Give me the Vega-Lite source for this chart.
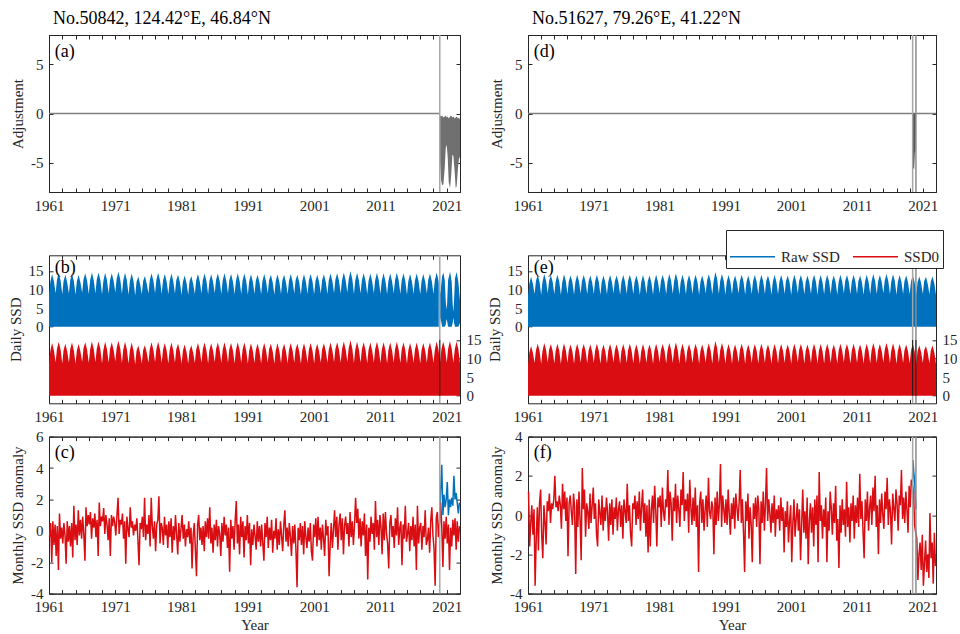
{
"$schema":"https://vega.github.io/schema/vega-lite/v6.json",
"padding":{"left":8,"top":9,"right":0,"bottom":0},
"data":{"values":[{}]},
"datasets":{
"band":[
{"t":1961,"L":8.5,"R":8.2},{"t":1961.2,"L":12.1,"R":11.6},{"t":1961.47,"L":14.2,"R":13.4},{"t":1961.75,"L":12.1,"R":11.5},
{"t":1962,"L":9.0,"R":8.8},{"t":1962.2,"L":12.6,"R":12.2},{"t":1962.47,"L":14.5,"R":14.0},{"t":1962.75,"L":12.4,"R":12.1},
{"t":1963,"L":8.7,"R":8.6},{"t":1963.2,"L":12.3,"R":12.0},{"t":1963.47,"L":14.0,"R":14.2},{"t":1963.75,"L":11.9,"R":12.3},
{"t":1964,"L":8.9,"R":8.9},{"t":1964.2,"L":12.5,"R":12.3},{"t":1964.47,"L":14.3,"R":13.9},{"t":1964.75,"L":12.2,"R":12.0},
{"t":1965,"L":8.6,"R":8.7},{"t":1965.2,"L":12.2,"R":12.1},{"t":1965.47,"L":13.9,"R":14.0},{"t":1965.75,"L":11.8,"R":12.1},
{"t":1966,"L":9.1,"R":8.5},{"t":1966.2,"L":12.7,"R":11.9},{"t":1966.47,"L":14.4,"R":14.1},{"t":1966.75,"L":12.3,"R":12.2},
{"t":1967,"L":8.8,"R":8.8},{"t":1967.2,"L":12.4,"R":12.2},{"t":1967.47,"L":14.6,"R":13.8},{"t":1967.75,"L":12.5,"R":11.9},
{"t":1968,"L":9.0,"R":8.6},{"t":1968.2,"L":12.6,"R":12.0},{"t":1968.47,"L":14.6,"R":14.0},{"t":1968.75,"L":12.5,"R":12.1},
{"t":1969,"L":8.7,"R":8.9},{"t":1969.2,"L":12.3,"R":12.3},{"t":1969.47,"L":14.5,"R":13.9},{"t":1969.75,"L":12.4,"R":12.0},
{"t":1970,"L":8.9,"R":8.7},{"t":1970.2,"L":12.5,"R":12.1},{"t":1970.47,"L":14.4,"R":13.8},{"t":1970.75,"L":12.3,"R":11.9},
{"t":1971,"L":9.2,"R":8.8},{"t":1971.2,"L":12.8,"R":12.2},{"t":1971.47,"L":14.8,"R":14.0},{"t":1971.75,"L":12.7,"R":12.1},
{"t":1972,"L":8.8,"R":8.6},{"t":1972.2,"L":12.4,"R":12.0},{"t":1972.47,"L":14.5,"R":13.8},{"t":1972.75,"L":12.4,"R":11.9},
{"t":1973,"L":8.6,"R":8.7},{"t":1973.2,"L":12.2,"R":12.1},{"t":1973.47,"L":14.3,"R":13.9},{"t":1973.75,"L":12.2,"R":12.0},
{"t":1974,"L":8.4,"R":8.9},{"t":1974.2,"L":12.0,"R":12.3},{"t":1974.47,"L":13.5,"R":13.8},{"t":1974.75,"L":11.4,"R":11.9},
{"t":1975,"L":8.7,"R":8.6},{"t":1975.2,"L":12.3,"R":12.0},{"t":1975.47,"L":13.6,"R":13.9},{"t":1975.75,"L":11.5,"R":12.0},
{"t":1976,"L":8.9,"R":8.8},{"t":1976.2,"L":12.5,"R":12.2},{"t":1976.47,"L":14.4,"R":14.0},{"t":1976.75,"L":12.3,"R":12.1},
{"t":1977,"L":9.0,"R":8.7},{"t":1977.2,"L":12.6,"R":12.1},{"t":1977.47,"L":14.5,"R":13.8},{"t":1977.75,"L":12.4,"R":11.9},
{"t":1978,"L":8.8,"R":8.5},{"t":1978.2,"L":12.4,"R":11.9},{"t":1978.47,"L":14.2,"R":13.9},{"t":1978.75,"L":12.1,"R":12.0},
{"t":1979,"L":8.7,"R":8.8},{"t":1979.2,"L":12.3,"R":12.2},{"t":1979.47,"L":14.3,"R":13.8},{"t":1979.75,"L":12.2,"R":11.9},
{"t":1980,"L":8.9,"R":8.6},{"t":1980.2,"L":12.5,"R":12.0},{"t":1980.47,"L":14.0,"R":14.0},{"t":1980.75,"L":11.9,"R":12.1},
{"t":1981,"L":8.5,"R":8.9},{"t":1981.2,"L":12.1,"R":12.3},{"t":1981.47,"L":13.8,"R":13.9},{"t":1981.75,"L":11.7,"R":12.0},
{"t":1982,"L":8.6,"R":8.7},{"t":1982.2,"L":12.2,"R":12.1},{"t":1982.47,"L":13.6,"R":14.2},{"t":1982.75,"L":11.5,"R":12.3},
{"t":1983,"L":8.8,"R":8.8},{"t":1983.2,"L":12.4,"R":12.2},{"t":1983.47,"L":14.2,"R":14.3},{"t":1983.75,"L":12.1,"R":12.4},
{"t":1984,"L":8.9,"R":8.6},{"t":1984.2,"L":12.5,"R":12.0},{"t":1984.47,"L":14.3,"R":14.0},{"t":1984.75,"L":12.2,"R":12.1},
{"t":1985,"L":8.7,"R":8.7},{"t":1985.2,"L":12.3,"R":12.1},{"t":1985.47,"L":14.1,"R":13.9},{"t":1985.75,"L":12.0,"R":12.0},
{"t":1986,"L":9.0,"R":8.8},{"t":1986.2,"L":12.6,"R":12.2},{"t":1986.47,"L":14.3,"R":14.0},{"t":1986.75,"L":12.2,"R":12.1},
{"t":1987,"L":8.8,"R":8.6},{"t":1987.2,"L":12.4,"R":12.0},{"t":1987.47,"L":14.4,"R":13.8},{"t":1987.75,"L":12.3,"R":11.9},
{"t":1988,"L":8.9,"R":8.9},{"t":1988.2,"L":12.5,"R":12.3},{"t":1988.47,"L":14.2,"R":14.1},{"t":1988.75,"L":12.1,"R":12.2},
{"t":1989,"L":8.7,"R":8.7},{"t":1989.2,"L":12.3,"R":12.1},{"t":1989.47,"L":14.4,"R":14.7},{"t":1989.75,"L":12.3,"R":12.8},
{"t":1990,"L":8.8,"R":8.8},{"t":1990.2,"L":12.4,"R":12.2},{"t":1990.47,"L":14.3,"R":14.2},{"t":1990.75,"L":12.2,"R":12.3},
{"t":1991,"L":8.6,"R":8.6},{"t":1991.2,"L":12.2,"R":12.0},{"t":1991.47,"L":14.1,"R":13.9},{"t":1991.75,"L":12.0,"R":12.0},
{"t":1992,"L":8.8,"R":8.7},{"t":1992.2,"L":12.4,"R":12.1},{"t":1992.47,"L":14.0,"R":13.8},{"t":1992.75,"L":11.9,"R":11.9},
{"t":1993,"L":8.7,"R":8.9},{"t":1993.2,"L":12.3,"R":12.3},{"t":1993.47,"L":14.2,"R":14.0},{"t":1993.75,"L":12.1,"R":12.1},
{"t":1994,"L":8.9,"R":8.6},{"t":1994.2,"L":12.5,"R":12.0},{"t":1994.47,"L":14.0,"R":13.8},{"t":1994.75,"L":11.9,"R":11.9},
{"t":1995,"L":8.6,"R":8.8},{"t":1995.2,"L":12.2,"R":12.2},{"t":1995.47,"L":14.1,"R":13.9},{"t":1995.75,"L":12.0,"R":12.0},
{"t":1996,"L":8.8,"R":8.7},{"t":1996.2,"L":12.4,"R":12.1},{"t":1996.47,"L":14.0,"R":14.0},{"t":1996.75,"L":11.9,"R":12.1},
{"t":1997,"L":8.7,"R":8.8},{"t":1997.2,"L":12.3,"R":12.2},{"t":1997.47,"L":14.2,"R":13.8},{"t":1997.75,"L":12.1,"R":11.9},
{"t":1998,"L":8.9,"R":8.6},{"t":1998.2,"L":12.5,"R":12.0},{"t":1998.47,"L":14.0,"R":13.9},{"t":1998.75,"L":11.9,"R":12.0},
{"t":1999,"L":8.6,"R":8.7},{"t":1999.2,"L":12.2,"R":12.1},{"t":1999.47,"L":14.1,"R":13.9},{"t":1999.75,"L":12.0,"R":12.0},
{"t":2000,"L":8.8,"R":8.8},{"t":2000.2,"L":12.4,"R":12.2},{"t":2000.47,"L":14.2,"R":13.8},{"t":2000.75,"L":12.1,"R":11.9},
{"t":2001,"L":8.7,"R":8.6},{"t":2001.2,"L":12.3,"R":12.0},{"t":2001.47,"L":14.0,"R":14.0},{"t":2001.75,"L":11.9,"R":12.1},
{"t":2002,"L":8.9,"R":8.9},{"t":2002.2,"L":12.5,"R":12.3},{"t":2002.47,"L":14.1,"R":13.9},{"t":2002.75,"L":12.0,"R":12.0},
{"t":2003,"L":8.8,"R":8.7},{"t":2003.2,"L":12.4,"R":12.1},{"t":2003.47,"L":14.3,"R":13.8},{"t":2003.75,"L":12.2,"R":11.9},
{"t":2004,"L":9.0,"R":8.8},{"t":2004.2,"L":12.6,"R":12.2},{"t":2004.47,"L":14.4,"R":14.0},{"t":2004.75,"L":12.3,"R":12.1},
{"t":2005,"L":8.9,"R":8.6},{"t":2005.2,"L":12.5,"R":12.0},{"t":2005.47,"L":14.6,"R":13.9},{"t":2005.75,"L":12.5,"R":12.0},
{"t":2006,"L":9.1,"R":8.7},{"t":2006.2,"L":12.7,"R":12.1},{"t":2006.47,"L":14.9,"R":14.0},{"t":2006.75,"L":12.8,"R":12.1},
{"t":2007,"L":8.8,"R":8.8},{"t":2007.2,"L":12.4,"R":12.2},{"t":2007.47,"L":14.5,"R":13.8},{"t":2007.75,"L":12.4,"R":11.9},
{"t":2008,"L":8.9,"R":8.6},{"t":2008.2,"L":12.5,"R":12.0},{"t":2008.47,"L":14.4,"R":14.0},{"t":2008.75,"L":12.3,"R":12.1},
{"t":2009,"L":8.7,"R":8.9},{"t":2009.2,"L":12.3,"R":12.3},{"t":2009.47,"L":14.3,"R":13.9},{"t":2009.75,"L":12.2,"R":12.0},
{"t":2010,"L":8.9,"R":8.7},{"t":2010.2,"L":12.5,"R":12.1},{"t":2010.47,"L":14.5,"R":14.0},{"t":2010.75,"L":12.4,"R":12.1},
{"t":2011,"L":8.8,"R":8.8},{"t":2011.2,"L":12.4,"R":12.2},{"t":2011.47,"L":14.4,"R":13.8},{"t":2011.75,"L":12.3,"R":11.9},
{"t":2012,"L":8.7,"R":8.6},{"t":2012.2,"L":12.3,"R":12.0},{"t":2012.47,"L":14.3,"R":14.0},{"t":2012.75,"L":12.2,"R":12.1},
{"t":2013,"L":8.9,"R":8.7},{"t":2013.2,"L":12.5,"R":12.1},{"t":2013.47,"L":14.5,"R":14.2},{"t":2013.75,"L":12.4,"R":12.3},
{"t":2014,"L":8.8,"R":8.8},{"t":2014.2,"L":12.4,"R":12.2},{"t":2014.47,"L":14.4,"R":13.9},{"t":2014.75,"L":12.3,"R":12.0},
{"t":2015,"L":8.6,"R":8.9},{"t":2015.2,"L":12.2,"R":12.3},{"t":2015.47,"L":14.2,"R":14.2},{"t":2015.75,"L":12.1,"R":12.3},
{"t":2016,"L":8.8,"R":8.7},{"t":2016.2,"L":12.4,"R":12.1},{"t":2016.47,"L":14.3,"R":14.1},{"t":2016.75,"L":12.2,"R":12.2},
{"t":2017,"L":8.7,"R":8.6},{"t":2017.2,"L":12.3,"R":12.0},{"t":2017.47,"L":14.2,"R":13.9},{"t":2017.75,"L":12.1,"R":12.0},
{"t":2018,"L":8.9,"R":8.8},{"t":2018.2,"L":12.5,"R":12.2},{"t":2018.47,"L":14.3,"R":13.8},{"t":2018.75,"L":12.2,"R":11.9},
{"t":2019,"L":8.8,"R":8.7},{"t":2019.2,"L":12.4,"R":12.1},{"t":2019.47,"L":14.6,"R":13.9},{"t":2019.75,"L":12.5,"R":12.0},
{"t":2020,"L":9.0,"R":8.6},{"t":2020.2,"L":12.6,"R":12.0},{"t":2020.47,"L":14.6,"R":13.5},{"t":2020.75,"L":12.5,"R":11.6},
{"t":2021,"L":8.9,"R":8.8},{"t":2021.2,"L":12.5,"R":12.2},{"t":2021.47,"L":14.7,"R":13.4},{"t":2021.75,"L":12.6,"R":11.5},
{"t":2022,"L":8.8,"R":8.7},{"t":2022.2,"L":12.4,"R":12.1},{"t":2022.47,"L":14.6,"R":13.5},{"t":2022.75,"L":12.5,"R":11.6},
{"t":2023,"L":8.7,"R":8.6}
],
"bb":[
{"t":2019.75,"hi":12.5,"lo":0},{"t":2019.95,"hi":9.5,"lo":0},{"t":2020.05,"hi":9.0,"lo":2.5},{"t":2020.15,"hi":11.0,"lo":1.5},{"t":2020.3,"hi":13.5,"lo":0},{"t":2020.5,"hi":14.6,"lo":0},{"t":2020.7,"hi":12.5,"lo":0},{"t":2020.85,"hi":7.0,"lo":0.5},{"t":2020.95,"hi":4.6,"lo":2.0},{"t":2021.05,"hi":6.0,"lo":1.5},{"t":2021.2,"hi":12.5,"lo":0},{"t":2021.5,"hi":14.8,"lo":0},{"t":2021.75,"hi":12.0,"lo":0},{"t":2021.9,"hi":6.0,"lo":1.0},{"t":2022.0,"hi":4.0,"lo":2.5},{"t":2022.1,"hi":7.0,"lo":1.0},{"t":2022.25,"hi":13.0,"lo":0},{"t":2022.5,"hi":14.7,"lo":0},{"t":2022.75,"hi":12.0,"lo":0},{"t":2023,"hi":7.0,"lo":1.0}
],
"adja":[
{"t":2019.95,"lo":-0.2,"hi":0},{"t":2020.0,"lo":-5.0,"hi":-0.2},{"t":2020.15,"lo":-6.8,"hi":-0.3},{"t":2020.3,"lo":-7.3,"hi":-0.2},{"t":2020.5,"lo":-7.2,"hi":-0.4},{"t":2020.7,"lo":-5.5,"hi":-0.3},{"t":2020.85,"lo":-3.5,"hi":-0.2},{"t":2021.0,"lo":-3.2,"hi":-0.4},{"t":2021.15,"lo":-4.5,"hi":-0.3},{"t":2021.3,"lo":-7.0,"hi":-0.5},{"t":2021.5,"lo":-7.6,"hi":-0.3},{"t":2021.65,"lo":-6.5,"hi":-0.2},{"t":2021.85,"lo":-4.2,"hi":-0.4},{"t":2022.0,"lo":-4.3,"hi":-0.3},{"t":2022.2,"lo":-6.0,"hi":-0.5},{"t":2022.35,"lo":-7.6,"hi":-0.4},{"t":2022.5,"lo":-7.4,"hi":-0.3},{"t":2022.7,"lo":-5.5,"hi":-0.5},{"t":2022.85,"lo":-4.6,"hi":-0.4},{"t":2023.0,"lo":-4.4,"hi":-0.6}
],
"adjd":[
{"t":2019.45,"lo":0,"hi":0},{"t":2019.48,"lo":-5.8,"hi":0},{"t":2019.58,"lo":-5.5,"hi":0},{"t":2019.68,"lo":-5.7,"hi":0},{"t":2019.78,"lo":-4.0,"hi":0},{"t":2019.9,"lo":-3.7,"hi":0},{"t":2019.95,"lo":0,"hi":0}
],
"cb":[
{"t":2019.92,"v":0.5},{"t":2020.08,"v":2.6},{"t":2020.25,"v":4.2},{"t":2020.42,"v":1.0},{"t":2020.58,"v":2.3},{"t":2020.75,"v":1.5},{"t":2020.92,"v":2.0},{"t":2021.08,"v":3.1},{"t":2021.25,"v":1.0},{"t":2021.42,"v":2.0},{"t":2021.58,"v":1.5},{"t":2021.75,"v":2.1},{"t":2021.92,"v":1.6},{"t":2022.08,"v":3.5},{"t":2022.25,"v":2.0},{"t":2022.42,"v":2.4},{"t":2022.58,"v":1.8},{"t":2022.75,"v":1.1},{"t":2022.92,"v":1.8}
],
"fb":[
{"t":2019.42,"v":1.6},{"t":2019.5,"v":2.8},{"t":2019.62,"v":2.2},{"t":2019.78,"v":1.6},{"t":2019.95,"v":0.3}
],
"cr":[
{"t":1961.08,"v":-0.4},{"t":1961.25,"v":0.5},{"t":1961.42,"v":-2.0},{"t":1961.58,"v":0.6},{"t":1961.75,"v":-0.9},{"t":1961.92,"v":0.4},
{"t":1962.08,"v":-1.6},{"t":1962.25,"v":0.3},{"t":1962.42,"v":-2.5},{"t":1962.58,"v":1.1},{"t":1962.75,"v":-0.5},{"t":1962.92,"v":0.2},
{"t":1963.08,"v":-0.8},{"t":1963.25,"v":0.5},{"t":1963.42,"v":-0.3},{"t":1963.58,"v":-2.1},{"t":1963.75,"v":0.6},{"t":1963.92,"v":-0.7},
{"t":1964.08,"v":0.3},{"t":1964.25,"v":-1.0},{"t":1964.42,"v":0.5},{"t":1964.58,"v":-1.7},{"t":1964.75,"v":1.6},{"t":1964.92,"v":-0.6},
{"t":1965.08,"v":0.4},{"t":1965.25,"v":-0.9},{"t":1965.42,"v":1.3},{"t":1965.58,"v":-0.3},{"t":1965.75,"v":0.7},{"t":1965.92,"v":-0.5},
{"t":1966.08,"v":0.9},{"t":1966.25,"v":-0.2},{"t":1966.42,"v":-1.9},{"t":1966.58,"v":1.5},{"t":1966.75,"v":0.3},{"t":1966.92,"v":1.0},
{"t":1967.08,"v":0.4},{"t":1967.25,"v":1.2},{"t":1967.42,"v":-0.5},{"t":1967.58,"v":0.8},{"t":1967.75,"v":0.2},{"t":1967.92,"v":1.1},
{"t":1968.08,"v":-0.4},{"t":1968.25,"v":0.7},{"t":1968.42,"v":-1.6},{"t":1968.58,"v":1.8},{"t":1968.75,"v":0.3},{"t":1968.92,"v":0.9},
{"t":1969.08,"v":0.6},{"t":1969.25,"v":1.45},{"t":1969.42,"v":-0.2},{"t":1969.58,"v":1.0},{"t":1969.75,"v":0.4},{"t":1969.92,"v":-0.6},
{"t":1970.08,"v":0.8},{"t":1970.25,"v":-1.6},{"t":1970.42,"v":1.0},{"t":1970.58,"v":0.3},{"t":1970.75,"v":0.9},{"t":1970.92,"v":0.5},
{"t":1971.08,"v":-0.3},{"t":1971.25,"v":1.0},{"t":1971.42,"v":2.1},{"t":1971.58,"v":-0.2},{"t":1971.75,"v":0.7},{"t":1971.92,"v":0.4},
{"t":1972.08,"v":1.1},{"t":1972.25,"v":-0.5},{"t":1972.42,"v":0.6},{"t":1972.58,"v":-2.1},{"t":1972.75,"v":0.9},{"t":1972.92,"v":0.1},
{"t":1973.08,"v":-0.4},{"t":1973.25,"v":1.5},{"t":1973.42,"v":0.2},{"t":1973.58,"v":0.6},{"t":1973.75,"v":-0.3},{"t":1973.92,"v":0.4},
{"t":1974.08,"v":0.0},{"t":1974.25,"v":0.8},{"t":1974.42,"v":-0.6},{"t":1974.58,"v":-2.2},{"t":1974.75,"v":0.5},{"t":1974.92,"v":0.1},
{"t":1975.08,"v":0.9},{"t":1975.25,"v":-0.4},{"t":1975.42,"v":2.1},{"t":1975.58,"v":-0.6},{"t":1975.75,"v":0.4},{"t":1975.92,"v":-0.2},
{"t":1976.08,"v":1.0},{"t":1976.25,"v":-1.0},{"t":1976.42,"v":2.1},{"t":1976.58,"v":0.3},{"t":1976.75,"v":-0.5},{"t":1976.92,"v":0.6},
{"t":1977.08,"v":-1.3},{"t":1977.25,"v":0.4},{"t":1977.42,"v":0.7},{"t":1977.58,"v":2.2},{"t":1977.75,"v":-0.8},{"t":1977.92,"v":0.5},
{"t":1978.08,"v":0.2},{"t":1978.25,"v":-0.9},{"t":1978.42,"v":0.9},{"t":1978.58,"v":-0.3},{"t":1978.75,"v":0.4},{"t":1978.92,"v":-1.1},
{"t":1979.08,"v":0.6},{"t":1979.25,"v":-0.4},{"t":1979.42,"v":0.8},{"t":1979.58,"v":-1.4},{"t":1979.75,"v":0.3},{"t":1979.92,"v":-0.6},
{"t":1980.08,"v":1.0},{"t":1980.25,"v":-0.2},{"t":1980.42,"v":-1.5},{"t":1980.58,"v":0.5},{"t":1980.75,"v":-0.7},{"t":1980.92,"v":0.2},
{"t":1981.08,"v":1.0},{"t":1981.25,"v":-0.5},{"t":1981.42,"v":0.4},{"t":1981.58,"v":-1.0},{"t":1981.75,"v":0.1},{"t":1981.92,"v":-0.4},
{"t":1982.08,"v":0.6},{"t":1982.25,"v":-0.8},{"t":1982.42,"v":0.2},{"t":1982.58,"v":-2.4},{"t":1982.75,"v":-0.3},{"t":1982.92,"v":0.5},
{"t":1983.08,"v":-1.2},{"t":1983.25,"v":-2.9},{"t":1983.42,"v":0.4},{"t":1983.58,"v":1.0},{"t":1983.75,"v":-0.6},{"t":1983.92,"v":0.2},
{"t":1984.08,"v":-0.9},{"t":1984.25,"v":0.3},{"t":1984.42,"v":-1.3},{"t":1984.58,"v":0.6},{"t":1984.75,"v":-0.4},{"t":1984.92,"v":0.8},
{"t":1985.08,"v":-0.5},{"t":1985.25,"v":1.5},{"t":1985.42,"v":-0.8},{"t":1985.58,"v":0.2},{"t":1985.75,"v":-1.4},{"t":1985.92,"v":0.4},
{"t":1986.08,"v":-0.6},{"t":1986.25,"v":0.7},{"t":1986.42,"v":-1.0},{"t":1986.58,"v":0.3},{"t":1986.75,"v":-0.2},{"t":1986.92,"v":-1.6},
{"t":1987.08,"v":0.5},{"t":1987.25,"v":-0.7},{"t":1987.42,"v":0.9},{"t":1987.58,"v":-0.3},{"t":1987.75,"v":0.4},{"t":1987.92,"v":-1.1},
{"t":1988.08,"v":0.2},{"t":1988.25,"v":-2.6},{"t":1988.42,"v":0.7},{"t":1988.58,"v":-0.5},{"t":1988.75,"v":0.3},{"t":1988.92,"v":-1.2},
{"t":1989.08,"v":0.6},{"t":1989.25,"v":1.9},{"t":1989.42,"v":-0.8},{"t":1989.58,"v":0.4},{"t":1989.75,"v":-1.5},{"t":1989.92,"v":0.9},
{"t":1990.08,"v":-0.4},{"t":1990.25,"v":0.6},{"t":1990.42,"v":-1.7},{"t":1990.58,"v":0.3},{"t":1990.75,"v":-0.6},{"t":1990.92,"v":1.0},
{"t":1991.08,"v":-0.8},{"t":1991.25,"v":0.5},{"t":1991.42,"v":-2.2},{"t":1991.58,"v":0.1},{"t":1991.75,"v":-0.9},{"t":1991.92,"v":0.4},
{"t":1992.08,"v":-0.3},{"t":1992.25,"v":-1.2},{"t":1992.42,"v":0.6},{"t":1992.58,"v":-0.7},{"t":1992.75,"v":0.3},{"t":1992.92,"v":-1.0},
{"t":1993.08,"v":0.4},{"t":1993.25,"v":-0.8},{"t":1993.42,"v":-1.9},{"t":1993.58,"v":0.5},{"t":1993.75,"v":-0.4},{"t":1993.92,"v":0.9},
{"t":1994.08,"v":-1.1},{"t":1994.25,"v":0.2},{"t":1994.42,"v":-0.6},{"t":1994.58,"v":0.7},{"t":1994.75,"v":-1.4},{"t":1994.92,"v":0.0},
{"t":1995.08,"v":-0.5},{"t":1995.25,"v":0.8},{"t":1995.42,"v":-1.2},{"t":1995.58,"v":0.1},{"t":1995.75,"v":-0.9},{"t":1995.92,"v":0.6},
{"t":1996.08,"v":-0.3},{"t":1996.25,"v":-1.3},{"t":1996.42,"v":0.4},{"t":1996.58,"v":1.3},{"t":1996.75,"v":-0.7},{"t":1996.92,"v":0.2},
{"t":1997.08,"v":-1.0},{"t":1997.25,"v":0.5},{"t":1997.42,"v":-0.4},{"t":1997.58,"v":-1.6},{"t":1997.75,"v":0.3},{"t":1997.92,"v":-0.8},
{"t":1998.08,"v":0.4},{"t":1998.25,"v":-1.2},{"t":1998.42,"v":-3.6},{"t":1998.58,"v":0.2},{"t":1998.75,"v":-0.6},{"t":1998.92,"v":0.5},
{"t":1999.08,"v":-0.9},{"t":1999.25,"v":0.3},{"t":1999.42,"v":-1.5},{"t":1999.58,"v":0.6},{"t":1999.75,"v":-0.4},{"t":1999.92,"v":-1.1},
{"t":2000.08,"v":0.2},{"t":2000.25,"v":-0.7},{"t":2000.42,"v":0.5},{"t":2000.58,"v":-1.3},{"t":2000.75,"v":-1.9},{"t":2000.92,"v":0.4},
{"t":2001.08,"v":-0.4},{"t":2001.25,"v":0.8},{"t":2001.42,"v":-1.0},{"t":2001.58,"v":0.9},{"t":2001.75,"v":-0.6},{"t":2001.92,"v":0.2},
{"t":2002.08,"v":-1.2},{"t":2002.25,"v":0.4},{"t":2002.42,"v":-0.5},{"t":2002.58,"v":-1.6},{"t":2002.75,"v":0.7},{"t":2002.92,"v":-0.3},
{"t":2003.08,"v":0.3},{"t":2003.25,"v":-2.9},{"t":2003.42,"v":-0.8},{"t":2003.58,"v":0.5},{"t":2003.75,"v":-1.1},{"t":2003.92,"v":0.1},
{"t":2004.08,"v":1.3},{"t":2004.25,"v":-0.4},{"t":2004.42,"v":0.9},{"t":2004.58,"v":-1.2},{"t":2004.75,"v":0.4},{"t":2004.92,"v":1.1},
{"t":2005.08,"v":-0.6},{"t":2005.25,"v":0.8},{"t":2005.42,"v":-1.5},{"t":2005.58,"v":0.3},{"t":2005.75,"v":0.9},{"t":2005.92,"v":-0.2},
{"t":2006.08,"v":0.5},{"t":2006.25,"v":-1.0},{"t":2006.42,"v":1.2},{"t":2006.58,"v":-0.4},{"t":2006.75,"v":0.6},{"t":2006.92,"v":-0.9},
{"t":2007.08,"v":0.3},{"t":2007.25,"v":2.1},{"t":2007.42,"v":0.5},{"t":2007.58,"v":1.4},{"t":2007.75,"v":-0.5},{"t":2007.92,"v":0.8},
{"t":2008.08,"v":-1.0},{"t":2008.25,"v":0.6},{"t":2008.42,"v":-0.3},{"t":2008.58,"v":1.1},{"t":2008.75,"v":-1.6},{"t":2008.92,"v":0.4},
{"t":2009.08,"v":-3.1},{"t":2009.25,"v":0.2},{"t":2009.42,"v":-0.7},{"t":2009.58,"v":0.9},{"t":2009.75,"v":-0.2},{"t":2009.92,"v":0.5},
{"t":2010.08,"v":-1.2},{"t":2010.25,"v":1.9},{"t":2010.42,"v":-0.4},{"t":2010.58,"v":0.7},{"t":2010.75,"v":-0.9},{"t":2010.92,"v":1.0},
{"t":2011.08,"v":0.3},{"t":2011.25,"v":-1.5},{"t":2011.42,"v":1.1},{"t":2011.58,"v":-0.6},{"t":2011.75,"v":1.2},{"t":2011.92,"v":-0.2},
{"t":2012.08,"v":-0.8},{"t":2012.25,"v":-2.4},{"t":2012.42,"v":0.5},{"t":2012.58,"v":1.0},{"t":2012.75,"v":-0.4},{"t":2012.92,"v":0.3},
{"t":2013.08,"v":-1.1},{"t":2013.25,"v":0.8},{"t":2013.42,"v":-0.3},{"t":2013.58,"v":1.5},{"t":2013.75,"v":-0.9},{"t":2013.92,"v":0.2},
{"t":2014.08,"v":0.6},{"t":2014.25,"v":-2.2},{"t":2014.42,"v":0.4},{"t":2014.58,"v":-0.5},{"t":2014.75,"v":1.6},{"t":2014.92,"v":-0.7},
{"t":2015.08,"v":-0.2},{"t":2015.25,"v":0.5},{"t":2015.42,"v":-1.3},{"t":2015.58,"v":0.3},{"t":2015.75,"v":-0.6},{"t":2015.92,"v":0.9},
{"t":2016.08,"v":-1.0},{"t":2016.25,"v":0.4},{"t":2016.42,"v":-2.5},{"t":2016.58,"v":1.6},{"t":2016.75,"v":-0.8},{"t":2016.92,"v":0.2},
{"t":2017.08,"v":0.5},{"t":2017.25,"v":-1.2},{"t":2017.42,"v":0.3},{"t":2017.58,"v":-0.4},{"t":2017.75,"v":1.3},{"t":2017.92,"v":-0.9},
{"t":2018.08,"v":-0.6},{"t":2018.25,"v":0.2},{"t":2018.42,"v":-1.4},{"t":2018.58,"v":0.6},{"t":2018.75,"v":1.5},{"t":2018.92,"v":-0.3},
{"t":2019.08,"v":-1.1},{"t":2019.25,"v":-3.5},{"t":2019.42,"v":0.8},{"t":2019.58,"v":1.2},{"t":2019.75,"v":-0.4},{"t":2019.92,"v":0.5},
{"t":2020.08,"v":1.8},{"t":2020.25,"v":0.3},{"t":2020.42,"v":-2.3},{"t":2020.58,"v":0.6},{"t":2020.75,"v":-0.5},{"t":2020.92,"v":0.9},
{"t":2021.08,"v":-0.8},{"t":2021.25,"v":0.4},{"t":2021.42,"v":-2.5},{"t":2021.58,"v":0.2},{"t":2021.75,"v":-1.0},{"t":2021.92,"v":0.7},
{"t":2022.08,"v":-0.3},{"t":2022.25,"v":0.8},{"t":2022.42,"v":-1.2},{"t":2022.58,"v":0.6},{"t":2022.75,"v":-0.7},{"t":2022.92,"v":0.3}
],
"fr":[
{"t":1961.08,"v":1.2},{"t":1961.25,"v":-1.6},{"t":1961.42,"v":-0.4},{"t":1961.58,"v":0.5},{"t":1961.75,"v":-1.0},{"t":1961.92,"v":0.3},
{"t":1962.08,"v":-3.6},{"t":1962.25,"v":-1.2},{"t":1962.42,"v":0.4},{"t":1962.58,"v":-1.8},{"t":1962.75,"v":0.6},{"t":1962.92,"v":1.3},
{"t":1963.08,"v":-1.0},{"t":1963.25,"v":-2.2},{"t":1963.42,"v":0.5},{"t":1963.58,"v":-0.3},{"t":1963.75,"v":-1.5},{"t":1963.92,"v":0.7},
{"t":1964.08,"v":0.2},{"t":1964.25,"v":1.1},{"t":1964.42,"v":-0.4},{"t":1964.58,"v":0.6},{"t":1964.75,"v":0.3},{"t":1964.92,"v":0.8},
{"t":1965.08,"v":2.0},{"t":1965.25,"v":0.4},{"t":1965.42,"v":0.7},{"t":1965.58,"v":0.2},{"t":1965.75,"v":1.0},{"t":1965.92,"v":0.5},
{"t":1966.08,"v":-0.7},{"t":1966.25,"v":1.6},{"t":1966.42,"v":0.3},{"t":1966.58,"v":1.2},{"t":1966.75,"v":-0.3},{"t":1966.92,"v":0.9},
{"t":1967.08,"v":-2.1},{"t":1967.25,"v":0.6},{"t":1967.42,"v":1.0},{"t":1967.58,"v":0.2},{"t":1967.75,"v":-0.5},{"t":1967.92,"v":1.1},
{"t":1968.08,"v":0.4},{"t":1968.25,"v":-3.0},{"t":1968.42,"v":0.8},{"t":1968.58,"v":-0.6},{"t":1968.75,"v":1.2},{"t":1968.92,"v":-0.3},
{"t":1969.08,"v":-2.3},{"t":1969.25,"v":2.4},{"t":1969.42,"v":0.3},{"t":1969.58,"v":1.3},{"t":1969.75,"v":-1.1},{"t":1969.92,"v":0.6},
{"t":1970.08,"v":0.2},{"t":1970.25,"v":-0.7},{"t":1970.42,"v":1.1},{"t":1970.58,"v":-0.4},{"t":1970.75,"v":0.5},{"t":1970.92,"v":1.4},
{"t":1971.08,"v":-0.2},{"t":1971.25,"v":0.6},{"t":1971.42,"v":-1.0},{"t":1971.58,"v":-1.6},{"t":1971.75,"v":0.8},{"t":1971.92,"v":0.1},
{"t":1972.08,"v":-0.5},{"t":1972.25,"v":1.0},{"t":1972.42,"v":-0.8},{"t":1972.58,"v":0.4},{"t":1972.75,"v":-0.3},{"t":1972.92,"v":0.9},
{"t":1973.08,"v":0.2},{"t":1973.25,"v":-1.3},{"t":1973.42,"v":0.6},{"t":1973.58,"v":-0.5},{"t":1973.75,"v":0.8},{"t":1973.92,"v":-1.0},
{"t":1974.08,"v":0.4},{"t":1974.25,"v":-0.2},{"t":1974.42,"v":0.9},{"t":1974.58,"v":-0.8},{"t":1974.75,"v":0.3},{"t":1974.92,"v":0.7},
{"t":1975.08,"v":-0.6},{"t":1975.25,"v":0.5},{"t":1975.42,"v":-1.2},{"t":1975.58,"v":0.8},{"t":1975.75,"v":0.2},{"t":1975.92,"v":-0.4},
{"t":1976.08,"v":1.6},{"t":1976.25,"v":-0.3},{"t":1976.42,"v":0.5},{"t":1976.58,"v":-0.9},{"t":1976.75,"v":-1.6},{"t":1976.92,"v":0.6},
{"t":1977.08,"v":0.3},{"t":1977.25,"v":1.0},{"t":1977.42,"v":-0.5},{"t":1977.58,"v":0.7},{"t":1977.75,"v":-0.2},{"t":1977.92,"v":1.2},
{"t":1978.08,"v":-0.8},{"t":1978.25,"v":0.4},{"t":1978.42,"v":1.3},{"t":1978.58,"v":-0.4},{"t":1978.75,"v":0.6},{"t":1978.92,"v":-1.1},
{"t":1979.08,"v":0.5},{"t":1979.25,"v":-1.9},{"t":1979.42,"v":0.8},{"t":1979.58,"v":-1.6},{"t":1979.75,"v":0.3},{"t":1979.92,"v":1.0},
{"t":1980.08,"v":-0.4},{"t":1980.25,"v":1.5},{"t":1980.42,"v":0.2},{"t":1980.58,"v":-1.6},{"t":1980.75,"v":0.9},{"t":1980.92,"v":0.4},
{"t":1981.08,"v":1.0},{"t":1981.25,"v":-0.6},{"t":1981.42,"v":1.4},{"t":1981.58,"v":0.2},{"t":1981.75,"v":-0.3},{"t":1981.92,"v":0.8},
{"t":1982.08,"v":0.4},{"t":1982.25,"v":2.3},{"t":1982.42,"v":-0.5},{"t":1982.58,"v":1.2},{"t":1982.75,"v":0.6},{"t":1982.92,"v":-1.3},
{"t":1983.08,"v":0.9},{"t":1983.25,"v":0.2},{"t":1983.42,"v":1.6},{"t":1983.58,"v":-0.4},{"t":1983.75,"v":1.0},{"t":1983.92,"v":0.3},
{"t":1984.08,"v":-0.6},{"t":1984.25,"v":1.3},{"t":1984.42,"v":0.5},{"t":1984.58,"v":2.2},{"t":1984.75,"v":-0.3},{"t":1984.92,"v":0.8},
{"t":1985.08,"v":0.2},{"t":1985.25,"v":1.1},{"t":1985.42,"v":-0.9},{"t":1985.58,"v":1.8},{"t":1985.75,"v":0.4},{"t":1985.92,"v":-0.5},
{"t":1986.08,"v":0.9},{"t":1986.25,"v":-0.3},{"t":1986.42,"v":1.4},{"t":1986.58,"v":-0.6},{"t":1986.75,"v":0.5},{"t":1986.92,"v":-2.9},
{"t":1987.08,"v":0.6},{"t":1987.25,"v":1.2},{"t":1987.42,"v":-0.4},{"t":1987.58,"v":0.8},{"t":1987.75,"v":-0.8},{"t":1987.92,"v":0.3},
{"t":1988.08,"v":1.0},{"t":1988.25,"v":-0.6},{"t":1988.42,"v":1.9},{"t":1988.58,"v":0.2},{"t":1988.75,"v":-0.2},{"t":1988.92,"v":0.7},
{"t":1989.08,"v":0.4},{"t":1989.25,"v":-2.0},{"t":1989.42,"v":0.9},{"t":1989.58,"v":-0.5},{"t":1989.75,"v":1.2},{"t":1989.92,"v":-0.3},
{"t":1990.08,"v":0.5},{"t":1990.25,"v":2.6},{"t":1990.42,"v":-0.6},{"t":1990.58,"v":1.0},{"t":1990.75,"v":0.3},{"t":1990.92,"v":-0.4},
{"t":1991.08,"v":0.8},{"t":1991.25,"v":-0.5},{"t":1991.42,"v":1.3},{"t":1991.58,"v":0.1},{"t":1991.75,"v":-1.0},{"t":1991.92,"v":0.6},
{"t":1992.08,"v":-0.2},{"t":1992.25,"v":0.9},{"t":1992.42,"v":-0.7},{"t":1992.58,"v":1.1},{"t":1992.75,"v":0.4},{"t":1992.92,"v":-0.3},
{"t":1993.08,"v":0.6},{"t":1993.25,"v":2.3},{"t":1993.42,"v":-0.4},{"t":1993.58,"v":0.8},{"t":1993.75,"v":-0.9},{"t":1993.92,"v":-2.9},
{"t":1994.08,"v":0.7},{"t":1994.25,"v":-0.3},{"t":1994.42,"v":1.1},{"t":1994.58,"v":-1.2},{"t":1994.75,"v":0.4},{"t":1994.92,"v":-0.5},
{"t":1995.08,"v":-2.4},{"t":1995.25,"v":0.6},{"t":1995.42,"v":-0.2},{"t":1995.58,"v":0.9},{"t":1995.75,"v":-0.6},{"t":1995.92,"v":1.0},
{"t":1996.08,"v":0.3},{"t":1996.25,"v":-2.5},{"t":1996.42,"v":0.7},{"t":1996.58,"v":-0.4},{"t":1996.75,"v":1.2},{"t":1996.92,"v":-0.8},
{"t":1997.08,"v":0.5},{"t":1997.25,"v":2.4},{"t":1997.42,"v":-0.3},{"t":1997.58,"v":0.8},{"t":1997.75,"v":0.1},{"t":1997.92,"v":-0.9},
{"t":1998.08,"v":0.6},{"t":1998.25,"v":-0.4},{"t":1998.42,"v":1.0},{"t":1998.58,"v":-1.1},{"t":1998.75,"v":0.3},{"t":1998.92,"v":-0.2},
{"t":1999.08,"v":0.5},{"t":1999.25,"v":-0.8},{"t":1999.42,"v":0.9},{"t":1999.58,"v":-0.3},{"t":1999.75,"v":0.4},{"t":1999.92,"v":-1.9},
{"t":2000.08,"v":0.2},{"t":2000.25,"v":-0.6},{"t":2000.42,"v":0.7},{"t":2000.58,"v":-1.4},{"t":2000.75,"v":-0.3},{"t":2000.92,"v":0.5},
{"t":2001.08,"v":-2.4},{"t":2001.25,"v":-0.4},{"t":2001.42,"v":0.8},{"t":2001.58,"v":-1.1},{"t":2001.75,"v":-0.2},{"t":2001.92,"v":0.6},
{"t":2002.08,"v":-0.8},{"t":2002.25,"v":0.3},{"t":2002.42,"v":-2.3},{"t":2002.58,"v":-0.5},{"t":2002.75,"v":1.3},{"t":2002.92,"v":-0.9},
{"t":2003.08,"v":0.2},{"t":2003.25,"v":-1.2},{"t":2003.42,"v":0.9},{"t":2003.58,"v":-2.5},{"t":2003.75,"v":-0.3},{"t":2003.92,"v":0.6},
{"t":2004.08,"v":-0.9},{"t":2004.25,"v":0.4},{"t":2004.42,"v":-1.6},{"t":2004.58,"v":0.8},{"t":2004.75,"v":-0.5},{"t":2004.92,"v":1.0},
{"t":2005.08,"v":-2.4},{"t":2005.25,"v":2.2},{"t":2005.42,"v":-0.3},{"t":2005.58,"v":0.5},{"t":2005.75,"v":-1.2},{"t":2005.92,"v":0.3},
{"t":2006.08,"v":-0.6},{"t":2006.25,"v":0.9},{"t":2006.42,"v":-2.4},{"t":2006.58,"v":0.2},{"t":2006.75,"v":-0.8},{"t":2006.92,"v":1.2},
{"t":2007.08,"v":0.4},{"t":2007.25,"v":-1.0},{"t":2007.42,"v":0.6},{"t":2007.58,"v":-0.4},{"t":2007.75,"v":1.5},{"t":2007.92,"v":-1.3},
{"t":2008.08,"v":-0.2},{"t":2008.25,"v":-2.7},{"t":2008.42,"v":0.5},{"t":2008.58,"v":-0.9},{"t":2008.75,"v":0.8},{"t":2008.92,"v":-0.5},
{"t":2009.08,"v":0.3},{"t":2009.25,"v":-1.1},{"t":2009.42,"v":1.7},{"t":2009.58,"v":-0.6},{"t":2009.75,"v":0.4},{"t":2009.92,"v":-1.4},
{"t":2010.08,"v":0.6},{"t":2010.25,"v":-0.3},{"t":2010.42,"v":1.0},{"t":2010.58,"v":-1.2},{"t":2010.75,"v":0.5},{"t":2010.92,"v":-0.4},
{"t":2011.08,"v":0.9},{"t":2011.25,"v":-0.6},{"t":2011.42,"v":2.1},{"t":2011.58,"v":-0.2},{"t":2011.75,"v":0.7},{"t":2011.92,"v":-0.9},
{"t":2012.08,"v":-2.2},{"t":2012.25,"v":0.8},{"t":2012.42,"v":-0.3},{"t":2012.58,"v":1.2},{"t":2012.75,"v":-0.8},{"t":2012.92,"v":0.4},
{"t":2013.08,"v":1.0},{"t":2013.25,"v":-0.5},{"t":2013.42,"v":1.4},{"t":2013.58,"v":0.2},{"t":2013.75,"v":2.0},{"t":2013.92,"v":-0.6},
{"t":2014.08,"v":0.5},{"t":2014.25,"v":-2.0},{"t":2014.42,"v":0.8},{"t":2014.58,"v":-0.4},{"t":2014.75,"v":1.1},{"t":2014.92,"v":0.0},
{"t":2015.08,"v":-0.7},{"t":2015.25,"v":1.2},{"t":2015.42,"v":0.3},{"t":2015.58,"v":1.9},{"t":2015.75,"v":-0.5},{"t":2015.92,"v":0.8},
{"t":2016.08,"v":0.2},{"t":2016.25,"v":-1.5},{"t":2016.42,"v":1.1},{"t":2016.58,"v":0.4},{"t":2016.75,"v":-0.3},{"t":2016.92,"v":1.3},
{"t":2017.08,"v":0.6},{"t":2017.25,"v":-0.8},{"t":2017.42,"v":1.0},{"t":2017.58,"v":0.5},{"t":2017.75,"v":2.3},{"t":2017.92,"v":-0.2},
{"t":2018.08,"v":0.9},{"t":2018.25,"v":-0.4},{"t":2018.42,"v":1.2},{"t":2018.58,"v":0.3},{"t":2018.75,"v":-0.9},{"t":2018.92,"v":1.5},
{"t":2019.08,"v":0.4},{"t":2019.25,"v":1.8},{"t":2019.42,"v":1.6},{"t":2019.58,"v":1.2},{"t":2019.75,"v":-0.5},{"t":2019.92,"v":-0.9},
{"t":2020.08,"v":-1.2},{"t":2020.25,"v":-3.3},{"t":2020.42,"v":-2.0},{"t":2020.58,"v":-1.4},{"t":2020.75,"v":-2.8},{"t":2020.92,"v":-1.0},
{"t":2021.08,"v":-3.6},{"t":2021.25,"v":-2.5},{"t":2021.42,"v":-1.3},{"t":2021.58,"v":-2.9},{"t":2021.75,"v":-2.0},{"t":2021.92,"v":-3.2},
{"t":2022.08,"v":0.1},{"t":2022.25,"v":-2.2},{"t":2022.42,"v":-1.4},{"t":2022.58,"v":-3.5},{"t":2022.75,"v":-0.9},{"t":2022.92,"v":-2.6}
]
},
"columns":2,
"align":"each",
"bounds":"flush",
"spacing":{"row":33.3,"column":68},
"concat":[
{
"width":411,"height":157,
"title":{"text":"No.50842, 124.42°E, 46.84°N"},
"layer":[
{"mark":{"type":"rule","color":"#7f7f7f","strokeWidth":1.5},
"encoding":{
"x":{"datum":1961,"type":"quantitative","scale":{"domain":[1961,2023],"nice":false,"zero":false},"axis":{"orient":"bottom","values":[1961,1963,1965,1967,1969,1971,1973,1975,1977,1979,1981,1983,1985,1987,1989,1991,1993,1995,1997,1999,2001,2003,2005,2007,2009,2011,2013,2015,2017,2019,2021,2023],"labelExpr":"(datum.value-1961)%10==0 ? datum.value+'' : ''","title":null}},
"x2":{"datum":2019.95},
"y":{"datum":0,"type":"quantitative","scale":{"domain":[-8,8],"nice":false,"zero":false},"axis":{"orient":"left","values":[-5,0,5],"title":"Adjustment","labelExpr":"datum.value+''"}}}},
{"data":{"name":"adja"},"mark":{"type":"area","color":"#707070"},
"encoding":{
"x":{"field":"t","type":"quantitative","scale":{"domain":[1961,2023],"nice":false,"zero":false},"axis":{"orient":"top","values":[1961,1963,1965,1967,1969,1971,1973,1975,1977,1979,1981,1983,1985,1987,1989,1991,1993,1995,1997,1999,2001,2003,2005,2007,2009,2011,2013,2015,2017,2019,2021,2023],"labels":false,"title":null}},
"y":{"field":"lo","type":"quantitative","scale":{"domain":[-8,8],"nice":false,"zero":false},"axis":{"orient":"right","values":[-5,0,5],"labels":false,"title":null}},
"y2":{"field":"hi"}}},
{"mark":{"type":"rule","color":"#a6a6a6","strokeWidth":1.5},"encoding":{"x":{"datum":2019.95,"type":"quantitative","scale":{"domain":[1961,2023],"nice":false,"zero":false},"axis":null}}},
{"mark":{"type":"text","text":"(a)","fontSize":18,"align":"left","baseline":"alphabetic","color":"black"},
"encoding":{"x":{"datum":1961.86,"type":"quantitative","scale":{"domain":[1961,2023],"nice":false,"zero":false},"axis":null},"y":{"datum":5.8,"type":"quantitative","scale":{"domain":[-8,8],"nice":false,"zero":false},"axis":null}}}
]
},
{
"width":408,"height":157,
"title":{"text":"No.51627, 79.26°E, 41.22°N"},
"layer":[
{"mark":{"type":"rule","color":"#7f7f7f","strokeWidth":1.5},
"encoding":{
"x":{"datum":1961,"type":"quantitative","scale":{"domain":[1961,2023],"nice":false,"zero":false},"axis":{"orient":"bottom","values":[1961,1963,1965,1967,1969,1971,1973,1975,1977,1979,1981,1983,1985,1987,1989,1991,1993,1995,1997,1999,2001,2003,2005,2007,2009,2011,2013,2015,2017,2019,2021,2023],"labelExpr":"(datum.value-1961)%10==0 ? datum.value+'' : ''","title":null}},
"x2":{"datum":2023},
"y":{"datum":0,"type":"quantitative","scale":{"domain":[-8,8],"nice":false,"zero":false},"axis":{"orient":"left","values":[-5,0,5],"title":"Adjustment","labelExpr":"datum.value+''"}}}},
{"data":{"name":"adjd"},"mark":{"type":"area","color":"#555555"},
"encoding":{
"x":{"field":"t","type":"quantitative","scale":{"domain":[1961,2023],"nice":false,"zero":false},"axis":{"orient":"top","values":[1961,1963,1965,1967,1969,1971,1973,1975,1977,1979,1981,1983,1985,1987,1989,1991,1993,1995,1997,1999,2001,2003,2005,2007,2009,2011,2013,2015,2017,2019,2021,2023],"labels":false,"title":null}},
"y":{"field":"lo","type":"quantitative","scale":{"domain":[-8,8],"nice":false,"zero":false},"axis":{"orient":"right","values":[-5,0,5],"labels":false,"title":null}},
"y2":{"field":"hi"}}},
{"mark":{"type":"rule","color":"#a6a6a6","strokeWidth":1.5},"encoding":{"x":{"datum":2019.45,"type":"quantitative","scale":{"domain":[1961,2023],"nice":false,"zero":false},"axis":null}}},
{"mark":{"type":"rule","color":"#8c8c8c","strokeWidth":1.5},"encoding":{"x":{"datum":2019.95,"type":"quantitative","scale":{"domain":[1961,2023],"nice":false,"zero":false},"axis":null}}},
{"mark":{"type":"text","text":"(d)","fontSize":18,"align":"left","baseline":"alphabetic","color":"black"},
"encoding":{"x":{"datum":1961.86,"type":"quantitative","scale":{"domain":[1961,2023],"nice":false,"zero":false},"axis":null},"y":{"datum":5.8,"type":"quantitative","scale":{"domain":[-8,8],"nice":false,"zero":false},"axis":null}}}
]
},
{
"width":411,"height":178,"view":{"stroke":null},
"layer":[
{"data":{"name":"band"},"transform":[{"filter":"datum.t<=2019.75"}],"mark":{"type":"area","color":"#0072BD"},
"encoding":{
"x":{"field":"t","type":"quantitative","scale":{"domain":[1961,2023],"nice":false,"zero":false},"axis":{"orient":"top","offset":-30,"values":[1961,1963,1965,1967,1969,1971,1973,1975,1977,1979,1981,1983,1985,1987,1989,1991,1993,1995,1997,1999,2001,2003,2005,2007,2009,2011,2013,2015,2017,2019,2021,2023],"labels":false,"title":null}},
"y":{"field":"L","type":"quantitative","scale":{"domain":[-20.6,19.2],"range":[178,30],"nice":false,"zero":false},"axis":{"orient":"left","values":[0,5,10,15],"title":"Daily SSD"}},
"y2":{"datum":0}}},
{"data":{"name":"bb"},"mark":{"type":"area","color":"#0072BD"},
"encoding":{
"x":{"field":"t","type":"quantitative","scale":{"domain":[1961,2023],"nice":false,"zero":false},"axis":null},
"y":{"field":"hi","type":"quantitative","scale":{"domain":[-20.6,19.2],"range":[178,30],"nice":false,"zero":false},"axis":null},
"y2":{"field":"lo"}}},
{"mark":{"type":"rule","color":"#a6a6a6","strokeWidth":1.5},"encoding":{"x":{"datum":2019.95,"type":"quantitative","scale":{"domain":[1961,2023],"nice":false,"zero":false},"axis":null},"y":{"datum":-20.6,"type":"quantitative","scale":{"domain":[-20.6,19.2],"range":[178,30],"nice":false,"zero":false},"axis":null},"y2":{"datum":19.2}}},
{"data":{"name":"band"},"mark":{"type":"area","color":"#D90D12"},
"encoding":{
"x":{"field":"t","type":"quantitative","scale":{"domain":[1961,2023],"nice":false,"zero":false},"axis":{"orient":"bottom","values":[1961,1963,1965,1967,1969,1971,1973,1975,1977,1979,1981,1983,1985,1987,1989,1991,1993,1995,1997,1999,2001,2003,2005,2007,2009,2011,2013,2015,2017,2019,2021,2023],"labelExpr":"(datum.value-1961)%10==0 ? datum.value+'' : ''","title":null}},
"y":{"field":"L","type":"quantitative","scale":{"domain":[-2.05,37.8],"range":[178,30],"nice":false,"zero":false},"axis":{"orient":"right","values":[0,5,10,15],"title":null}},
"y2":{"datum":0}}},
{"mark":{"type":"rule","color":"#1a1a1a","strokeWidth":1},"encoding":{"x":{"datum":2019.95,"type":"quantitative","scale":{"domain":[1961,2023],"nice":false,"zero":false},"axis":null},"y":{"datum":0,"type":"quantitative","scale":{"domain":[-2.05,37.8],"range":[178,30],"nice":false,"zero":false},"axis":null},"y2":{"datum":15}}},
{"mark":{"type":"text","text":"(b)","fontSize":18,"align":"left","baseline":"alphabetic","color":"black"},
"encoding":{"x":{"datum":1961.86,"type":"quantitative","scale":{"domain":[1961,2023],"nice":false,"zero":false},"axis":null},"y":{"datum":14.35,"type":"quantitative","scale":{"domain":[-20.6,19.2],"range":[178,30],"nice":false,"zero":false},"axis":null}}}
],
"resolve":{"scale":{"y":"independent"}}
},
{
"width":408,"height":178,"view":{"stroke":null},
"layer":[
{"data":{"name":"band"},"mark":{"type":"area","color":"#0072BD"},
"encoding":{
"x":{"field":"t","type":"quantitative","scale":{"domain":[1961,2023],"nice":false,"zero":false},"axis":{"orient":"top","offset":-30,"values":[1961,1963,1965,1967,1969,1971,1973,1975,1977,1979,1981,1983,1985,1987,1989,1991,1993,1995,1997,1999,2001,2003,2005,2007,2009,2011,2013,2015,2017,2019,2021,2023],"labels":false,"title":null}},
"y":{"field":"R","type":"quantitative","scale":{"domain":[-20.6,19.2],"range":[178,30],"nice":false,"zero":false},"axis":{"orient":"left","values":[0,5,10,15],"title":"Daily SSD"}},
"y2":{"datum":0}}},
{"mark":{"type":"rule","color":"#a6a6a6","strokeWidth":1.5},"encoding":{"x":{"datum":2019.45,"type":"quantitative","scale":{"domain":[1961,2023],"nice":false,"zero":false},"axis":null},"y":{"datum":-20.6,"type":"quantitative","scale":{"domain":[-20.6,19.2],"range":[178,30],"nice":false,"zero":false},"axis":null},"y2":{"datum":19.2}}},
{"mark":{"type":"rule","color":"#8c8c8c","strokeWidth":1.5},"encoding":{"x":{"datum":2019.95,"type":"quantitative","scale":{"domain":[1961,2023],"nice":false,"zero":false},"axis":null},"y":{"datum":-20.6,"type":"quantitative","scale":{"domain":[-20.6,19.2],"range":[178,30],"nice":false,"zero":false},"axis":null},"y2":{"datum":19.2}}},
{"data":{"name":"band"},"mark":{"type":"area","color":"#D90D12"},
"encoding":{
"x":{"field":"t","type":"quantitative","scale":{"domain":[1961,2023],"nice":false,"zero":false},"axis":{"orient":"bottom","values":[1961,1963,1965,1967,1969,1971,1973,1975,1977,1979,1981,1983,1985,1987,1989,1991,1993,1995,1997,1999,2001,2003,2005,2007,2009,2011,2013,2015,2017,2019,2021,2023],"labelExpr":"(datum.value-1961)%10==0 ? datum.value+'' : ''","title":null}},
"y":{"field":"R","type":"quantitative","scale":{"domain":[-2.05,37.8],"range":[178,30],"nice":false,"zero":false},"axis":{"orient":"right","values":[0,5,10,15],"title":null}},
"y2":{"datum":0}}},
{"mark":{"type":"rule","color":"#1a1a1a","strokeWidth":1},"encoding":{"x":{"datum":2019.45,"type":"quantitative","scale":{"domain":[1961,2023],"nice":false,"zero":false},"axis":null},"y":{"datum":0,"type":"quantitative","scale":{"domain":[-2.05,37.8],"range":[178,30],"nice":false,"zero":false},"axis":null},"y2":{"datum":15}}},
{"mark":{"type":"rule","color":"#1a1a1a","strokeWidth":1},"encoding":{"x":{"datum":2019.95,"type":"quantitative","scale":{"domain":[1961,2023],"nice":false,"zero":false},"axis":null},"y":{"datum":0,"type":"quantitative","scale":{"domain":[-2.05,37.8],"range":[178,30],"nice":false,"zero":false},"axis":null},"y2":{"datum":15}}},
{"mark":{"type":"text","text":"(e)","fontSize":18,"align":"left","baseline":"alphabetic","color":"black"},
"encoding":{"x":{"datum":1961.86,"type":"quantitative","scale":{"domain":[1961,2023],"nice":false,"zero":false},"axis":null},"y":{"datum":14.35,"type":"quantitative","scale":{"domain":[-20.6,19.2],"range":[178,30],"nice":false,"zero":false},"axis":null}}}
],
"resolve":{"scale":{"y":"independent"}}
},
{
"width":411,"height":157,
"layer":[
{"data":{"name":"cb"},"mark":{"type":"line","strokeWidth":1.5},
"encoding":{
"x":{"field":"t","type":"quantitative","scale":{"domain":[1961,2023],"nice":false,"zero":false},"axis":{"orient":"top","values":[1961,1963,1965,1967,1969,1971,1973,1975,1977,1979,1981,1983,1985,1987,1989,1991,1993,1995,1997,1999,2001,2003,2005,2007,2009,2011,2013,2015,2017,2019,2021,2023],"labels":false,"title":null}},
"y":{"field":"v","type":"quantitative","scale":{"domain":[-4,6],"nice":false,"zero":false},"axis":{"orient":"right","values":[-4,-2,0,2,4,6],"labels":false,"title":null}},
"color":{"datum":"Raw SSD","scale":{"domain":["Raw SSD","SSD0"],"range":["#0072BD","#D90D12"]},"legend":{"title":null,"orient":"none","legendX":677,"legendY":195,"direction":"horizontal","symbolType":"stroke","symbolSize":2025,"symbolStrokeWidth":1.5,"labelFontSize":15,"labelFont":"Liberation Serif","labelColor":"#262626","strokeColor":"#262626","fillColor":"white","padding":3,"labelOffset":5,"columnPadding":10}}}},
{"data":{"name":"cr"},"mark":{"type":"line","strokeWidth":1.5},
"encoding":{
"x":{"field":"t","type":"quantitative","scale":{"domain":[1961,2023],"nice":false,"zero":false},"axis":{"orient":"bottom","values":[1961,1963,1965,1967,1969,1971,1973,1975,1977,1979,1981,1983,1985,1987,1989,1991,1993,1995,1997,1999,2001,2003,2005,2007,2009,2011,2013,2015,2017,2019,2021,2023],"labelExpr":"(datum.value-1961)%10==0 ? datum.value+'' : ''","title":"Year"}},
"y":{"field":"v","type":"quantitative","scale":{"domain":[-4,6],"nice":false,"zero":false},"axis":{"orient":"left","values":[-4,-2,0,2,4,6],"title":"Monthly SSD anomaly","labelExpr":"datum.value+''"}},
"color":{"datum":"SSD0","scale":{"domain":["Raw SSD","SSD0"],"range":["#0072BD","#D90D12"]},"legend":{"title":null,"orient":"none","legendX":677,"legendY":195,"direction":"horizontal","symbolType":"stroke","symbolSize":2025,"symbolStrokeWidth":1.5,"labelFontSize":15,"labelFont":"Liberation Serif","labelColor":"#262626","strokeColor":"#262626","fillColor":"white","padding":3,"labelOffset":5,"columnPadding":10}}}},
{"mark":{"type":"rule","color":"#a6a6a6","strokeWidth":1.5},"encoding":{"x":{"datum":2019.95,"type":"quantitative","scale":{"domain":[1961,2023],"nice":false,"zero":false},"axis":null}}},
{"mark":{"type":"text","text":"(c)","fontSize":18,"align":"left","baseline":"alphabetic","color":"black"},
"encoding":{"x":{"datum":1961.86,"type":"quantitative","scale":{"domain":[1961,2023],"nice":false,"zero":false},"axis":null},"y":{"datum":4.66,"type":"quantitative","scale":{"domain":[-4,6],"nice":false,"zero":false},"axis":null}}}
]
},
{
"width":408,"height":157,
"layer":[
{"data":{"name":"fb"},"mark":{"type":"line","strokeWidth":1.5,"color":"#0072BD"},
"encoding":{
"x":{"field":"t","type":"quantitative","scale":{"domain":[1961,2023],"nice":false,"zero":false},"axis":{"orient":"top","values":[1961,1963,1965,1967,1969,1971,1973,1975,1977,1979,1981,1983,1985,1987,1989,1991,1993,1995,1997,1999,2001,2003,2005,2007,2009,2011,2013,2015,2017,2019,2021,2023],"labels":false,"title":null}},
"y":{"field":"v","type":"quantitative","scale":{"domain":[-4,4],"nice":false,"zero":false},"axis":{"orient":"right","values":[-4,-2,0,2,4],"labels":false,"title":null}}}},
{"data":{"name":"fr"},"mark":{"type":"line","strokeWidth":1.5,"color":"#D90D12"},
"encoding":{
"x":{"field":"t","type":"quantitative","scale":{"domain":[1961,2023],"nice":false,"zero":false},"axis":{"orient":"bottom","values":[1961,1963,1965,1967,1969,1971,1973,1975,1977,1979,1981,1983,1985,1987,1989,1991,1993,1995,1997,1999,2001,2003,2005,2007,2009,2011,2013,2015,2017,2019,2021,2023],"labelExpr":"(datum.value-1961)%10==0 ? datum.value+'' : ''","title":"Year"}},
"y":{"field":"v","type":"quantitative","scale":{"domain":[-4,4],"nice":false,"zero":false},"axis":{"orient":"left","values":[-4,-2,0,2,4],"title":"Monthly SSD anomaly","labelExpr":"datum.value+''"}}}},
{"mark":{"type":"rule","color":"#a6a6a6","strokeWidth":1.5},"encoding":{"x":{"datum":2019.45,"type":"quantitative","scale":{"domain":[1961,2023],"nice":false,"zero":false},"axis":null}}},
{"mark":{"type":"rule","color":"#8c8c8c","strokeWidth":1.5},"encoding":{"x":{"datum":2019.95,"type":"quantitative","scale":{"domain":[1961,2023],"nice":false,"zero":false},"axis":null}}},
{"mark":{"type":"text","text":"(f)","fontSize":18,"align":"left","baseline":"alphabetic","color":"black"},
"encoding":{"x":{"datum":1961.86,"type":"quantitative","scale":{"domain":[1961,2023],"nice":false,"zero":false},"axis":null},"y":{"datum":2.92,"type":"quantitative","scale":{"domain":[-4,4],"nice":false,"zero":false},"axis":null}}}
]
}
],
"config":{
"font":"Liberation Serif",
"view":{"stroke":"#262626","strokeWidth":1},
"axis":{"grid":false,"domainColor":"#262626","domainWidth":1,"tickColor":"#262626","tickWidth":1,"tickSize":-4,"labelFont":"Liberation Serif","labelFontSize":15,"labelColor":"#262626","titleFont":"Liberation Serif","titleFontSize":15,"titleFontWeight":"normal","titleColor":"#262626","labelOverlap":false,"labelFlush":false},
"axisX":{"labelPadding":10,"titlePadding":3},
"axisY":{"labelPadding":10,"titlePadding":5},
"title":{"font":"Liberation Serif","fontSize":18,"fontWeight":"normal","color":"black","anchor":"start","frame":"group","offset":6,"baseline":"alphabetic","dx":4}
}
}
